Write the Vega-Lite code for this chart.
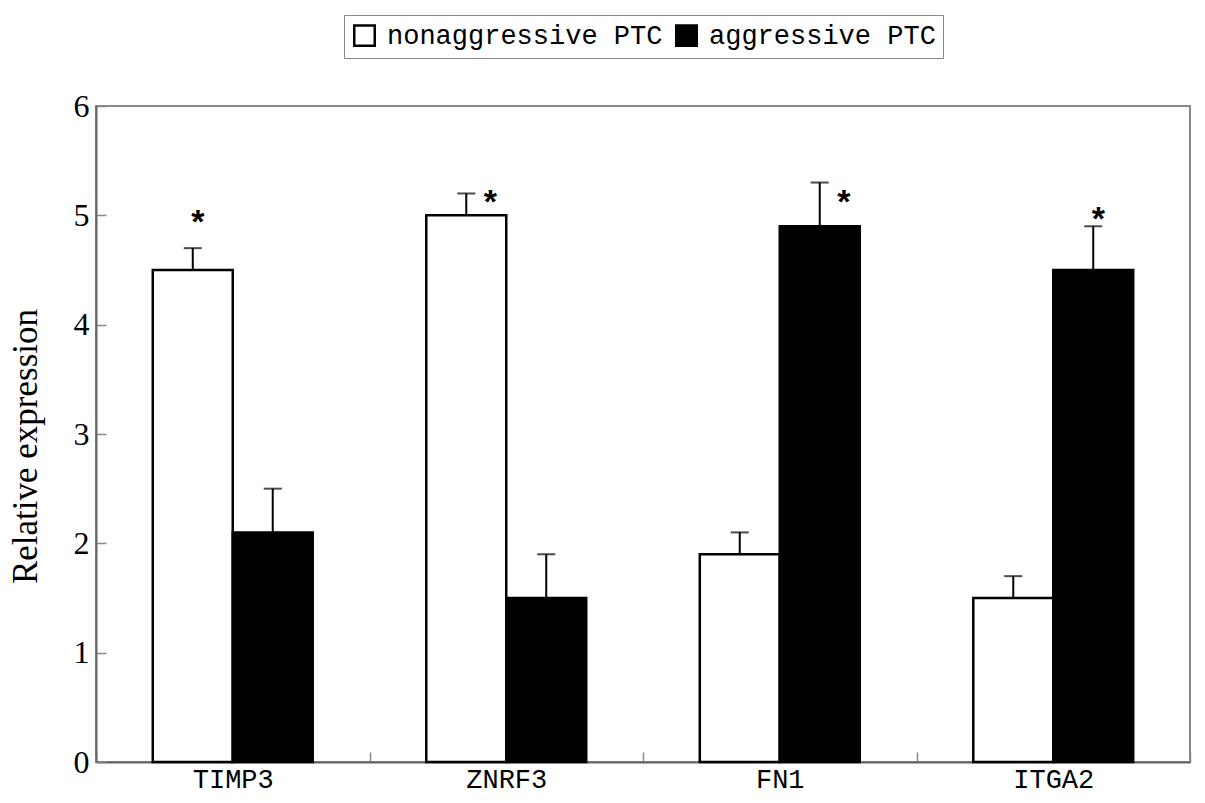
{
  "$schema": "https://vega.github.io/schema/vega-lite/v6.json",
  "autosize": {"type": "none"},
  "padding": {"left": 96, "top": 106, "right": 15, "bottom": 41},
  "width": 1094,
  "height": 656,
  "background": "white",
  "config": {
    "view": {"stroke": "#888888", "strokeWidth": 2},
    "axis": {"domainColor": "#666666", "domainWidth": 2, "tickColor": "#888888", "tickWidth": 1.5, "grid": false}
  },
  "datasets": {
    "bars": [
      {"gene": "TIMP3", "group": "nonaggressive PTC", "value": 4.5, "upper": 4.7},
      {"gene": "TIMP3", "group": "aggressive PTC", "value": 2.1, "upper": 2.5},
      {"gene": "ZNRF3", "group": "nonaggressive PTC", "value": 5.0, "upper": 5.2},
      {"gene": "ZNRF3", "group": "aggressive PTC", "value": 1.5, "upper": 1.9},
      {"gene": "FN1", "group": "nonaggressive PTC", "value": 1.9, "upper": 2.1},
      {"gene": "FN1", "group": "aggressive PTC", "value": 4.9, "upper": 5.3},
      {"gene": "ITGA2", "group": "nonaggressive PTC", "value": 1.5, "upper": 1.7},
      {"gene": "ITGA2", "group": "aggressive PTC", "value": 4.5, "upper": 4.9}
    ],
    "stars": [
      {"gene": "TIMP3", "group": "nonaggressive PTC", "pos": 4.97, "side": "center", "label": "*"},
      {"gene": "ZNRF3", "group": "nonaggressive PTC", "pos": 5.15, "side": "right", "label": "*"},
      {"gene": "FN1", "group": "aggressive PTC", "pos": 5.15, "side": "right", "label": "*"},
      {"gene": "ITGA2", "group": "aggressive PTC", "pos": 4.99, "side": "center", "label": "*"}
    ]
  },
  "encoding": {
    "x": {
      "field": "gene", "type": "nominal", "sort": ["TIMP3", "ZNRF3", "FN1", "ITGA2"],
      "scale": {"paddingInner": 0, "paddingOuter": 0},
      "axis": {"title": null, "labelAngle": 0, "tickBand": "extent", "tickSize": -10, "labelPadding": 14,
               "labelFont": "Liberation Mono", "labelFontSize": 27, "labelColor": "black"}
    },
    "xOffset": {
      "field": "group", "type": "nominal", "sort": ["nonaggressive PTC", "aggressive PTC"],
      "scale": {"paddingInner": 0, "paddingOuter": 0.71}
    }
  },
  "layer": [
    {
      "data": {"name": "bars"},
      "mark": {"type": "rule", "stroke": "black", "strokeWidth": 2},
      "encoding": {
        "y": {"field": "value", "type": "quantitative"},
        "y2": {"field": "upper"}
      }
    },
    {
      "data": {"name": "bars"},
      "mark": {"type": "tick", "color": "black", "size": 18, "thickness": 2, "orient": "horizontal"},
      "encoding": {
        "y": {"field": "upper", "type": "quantitative"}
      }
    },
    {
      "data": {"name": "bars"},
      "mark": {"type": "bar", "stroke": "black", "strokeWidth": 2.5, "opacity": 1},
      "encoding": {
        "y": {
          "field": "value", "type": "quantitative",
          "scale": {"domain": [0, 6], "nice": false},
          "axis": {"title": "Relative expression", "titleFont": "Liberation Serif", "titleFontSize": 35,
                   "titleFontWeight": "normal", "titleColor": "black", "titlePadding": 30, "titleY": 340,
                   "values": [0, 1, 2, 3, 4, 5, 6], "format": "d", "tickSize": -10, "labelPadding": 17,
                   "labelFont": "Liberation Serif", "labelFontSize": 32, "labelColor": "black"}
        },
        "fill": {
          "field": "group", "type": "nominal", "sort": ["nonaggressive PTC", "aggressive PTC"],
          "scale": {"domain": ["nonaggressive PTC", "aggressive PTC"], "range": ["white", "black"]},
          "legend": {
            "title": null, "orient": "none", "direction": "horizontal", "legendX": 248, "legendY": -91,
            "symbolType": "square", "symbolSize": 420, "symbolStrokeColor": "black", "symbolStrokeWidth": 2.5,
            "labelFont": "Liberation Mono", "labelFontSize": 27, "labelColor": "black", "labelOffset": 9,
            "columnPadding": 8, "strokeColor": "#888888", "padding": 7, "labelLimit": 400
          }
        }
      }
    },
    {
      "data": {"name": "stars"},
      "transform": [{"filter": "datum.side === 'center'"}],
      "mark": {"type": "text", "font": "Liberation Sans", "fontSize": 34, "fontWeight": "bold", "dx": 5, "dy": 4, "baseline": "middle", "color": "black"},
      "encoding": {
        "y": {"field": "pos", "type": "quantitative"},
        "text": {"field": "label"}
      }
    },
    {
      "data": {"name": "stars"},
      "transform": [{"filter": "datum.side === 'right'"}],
      "mark": {"type": "text", "font": "Liberation Sans", "fontSize": 34, "fontWeight": "bold", "dx": 24, "dy": 4, "baseline": "middle", "color": "black"},
      "encoding": {
        "y": {"field": "pos", "type": "quantitative"},
        "text": {"field": "label"}
      }
    }
  ]
}
